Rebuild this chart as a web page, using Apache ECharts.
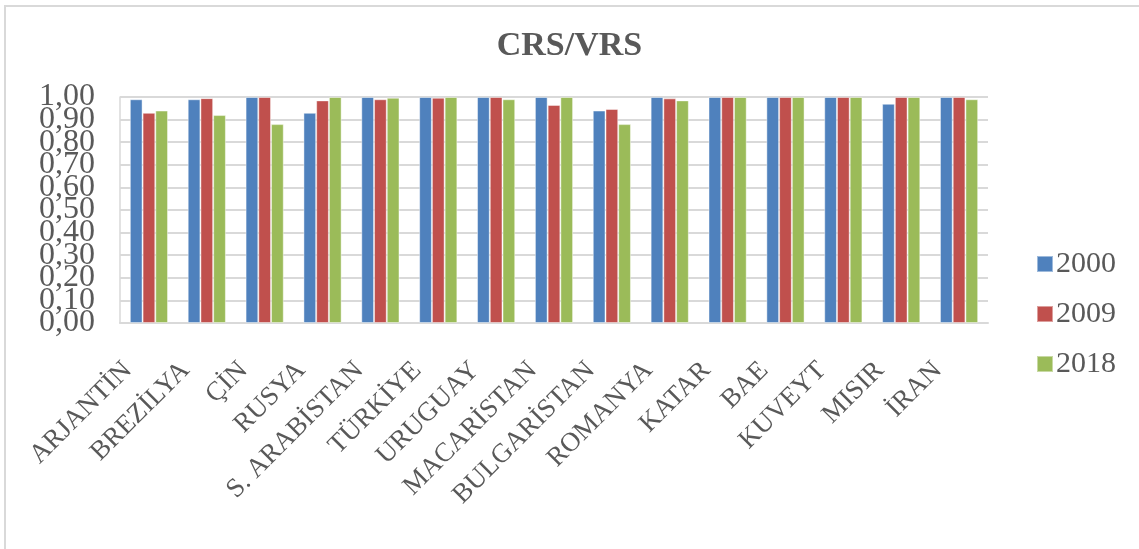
<!DOCTYPE html>
<html>
<head>
<meta charset="utf-8">
<script src="https://cdn.jsdelivr.net/npm/echarts@6/dist/echarts.min.js"></script>
<style>
  html, body { margin: 0; padding: 0; background: #fff; }
  #chart { width: 1139px; height: 549px; }
</style>
</head>
<body>
<div id="chart"></div>
<script>
// ülkeler
const countries = ['ARJANTİN', 'BREZİLYA', 'ÇİN', 'RUSYA', 'S. ARABİSTAN', 'TÜRKİYE', 'URUGUAY',
  'MACARİSTAN', 'BULGARİSTAN', 'ROMANYA', 'KATAR', 'BAE', 'KUVEYT', 'MISIR', 'İRAN'];
const years = ['2000', '2009', '2018'];
const colors = ['#4F81BD', '#C0504D', '#9BBB59'];

// CRS/VRS değerleri
const v2000 = [0.99, 0.99, 1.00, 0.93, 1.00, 1.00, 1.00, 1.00, 0.94, 1.00, 1.00, 1.00, 1.00, 0.97, 1.00];
const v2009 = [0.93, 0.995, 1.00, 0.985, 0.99, 0.997, 1.00, 0.965, 0.947, 0.994, 1.00, 1.00, 1.00, 1.00, 1.00];
const v2018 = [0.94, 0.92, 0.88, 1.00, 0.997, 1.00, 0.99, 1.00, 0.88, 0.985, 1.00, 1.00, 1.00, 1.00, 0.99];
const yTicks = { min: 0, max: 1, step: 0.1 };

const serif = '"Liberation Serif", "DejaVu Serif", serif';
const textColor = '#595959';
const gridColor = '#D9D9D9';

const fmt = (v) => v.toFixed(2).replace('.', ',');
// etiketler çok sıkışık: çift/tek adımlar iki eksene bölünüyor, yoksa echarts bazılarını gizliyor
const isEven = (v) => Math.round(v / yTicks.step) % 2 === 0;

const yLabel = {
  margin: 25,
  fontFamily: serif,
  fontSize: 32,
  color: textColor,
};

const chart = echarts.init(document.getElementById('chart'));

const option = {
  animation: false,
  color: colors,
  title: {
    text: 'CRS/VRS',
    left: 'center',
    top: 24,
    textStyle: {
      fontFamily: serif,
      fontWeight: 'bold',
      fontSize: 34,
      color: textColor,
    },
  },
  legend: {
    data: years,
    orient: 'vertical',
    left: 1031,
    top: 244,
    icon: 'rect',
    itemWidth: 16,
    itemHeight: 16,
    itemGap: 20,
    textStyle: {
      fontFamily: serif,
      fontSize: 30,
      color: textColor,
      padding: [0, 0, 0, -2],
    },
  },
  grid: {
    left: 120,
    right: 151,
    top: 97,
    bottom: 226,
  },
  xAxis: {
    type: 'category',
    data: countries,
    axisLine: { lineStyle: { color: gridColor, width: 2 } },
    axisTick: { show: false },
    axisLabel: {
      interval: 0,
      rotate: 45,
      margin: 22,
      padding: [0, 30, 0, 0],
      fontFamily: serif,
      fontSize: 27,
      color: textColor,
    },
  },
  yAxis: [
    {
      type: 'value',
      position: 'left',
      min: yTicks.min,
      max: yTicks.max,
      interval: yTicks.step,
      axisLine: { show: true, lineStyle: { color: gridColor, width: 1.5 } },
      axisTick: { show: false },
      splitLine: { lineStyle: { color: gridColor, width: 2 } },
      axisLabel: Object.assign({}, yLabel, {
        showMinLabel: true,
        showMaxLabel: true,
        formatter: (v) => (isEven(v) ? fmt(v) : ''),
      }),
    },
    {
      type: 'value',
      position: 'left',
      min: yTicks.min,
      max: yTicks.max,
      interval: yTicks.step,
      axisLine: { show: false },
      axisTick: { show: false },
      splitLine: { show: false },
      axisLabel: Object.assign({}, yLabel, {
        showMinLabel: false,
        showMaxLabel: false,
        formatter: (v) => (isEven(v) ? '' : fmt(v)),
      }),
    },
  ],
  series: [v2000, v2009, v2018].map((d, i) => ({
    name: years[i],
    type: 'bar',
    data: d,
    barGap: '0%',
    barCategoryGap: '34%',
    itemStyle: { borderColor: 'rgba(255,255,255,0.45)', borderWidth: 1 },
  })),
  graphic: [
    {
      type: 'polyline',
      shape: { points: [[5, 549], [5, 6], [1139, 6]] },
      style: { stroke: gridColor, lineWidth: 2, fill: null },
    },
  ],
};

chart.setOption(option);
</script>
</body>
</html>
